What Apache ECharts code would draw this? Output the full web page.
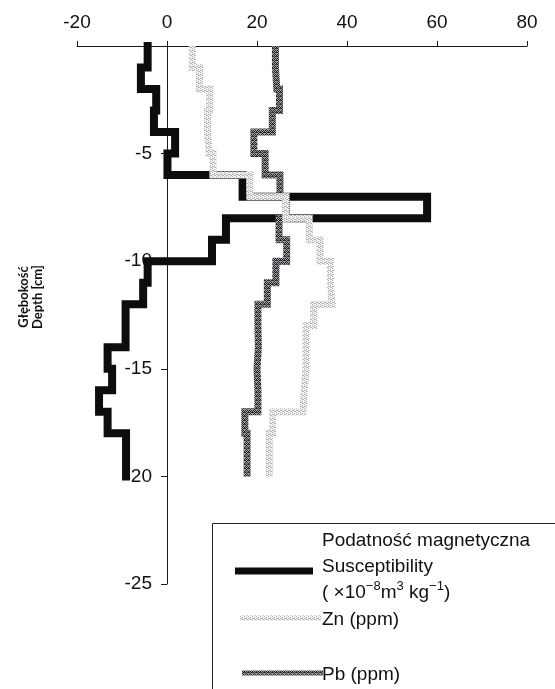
<!DOCTYPE html>
<html><head><meta charset="utf-8">
<script src="https://cdn.jsdelivr.net/npm/echarts@6/dist/echarts.min.js"></script>
<style>html,body{margin:0;padding:0;background:#fff}#c{width:555px;height:689px}</style>
</head><body><div id="c"></div>
<script>
// Depth intervals (cm, top and bottom of each 1 cm slice)
const depthTop    = [0,1,2,3,4,5,6,7,8,9,10,11,12,13,14,15,16,17,18,19];
const depthBottom = [1,2,3,4,5,6,7,8,9,10,11,12,13,14,15,16,17,18,19,20];
// Magnetic susceptibility (x10^-8 m3 kg-1)
const susceptibility = [-4.3,-5.8,-2.4,-2.9,1.8,0.1,16.8,57.8,13.1,10.0,-4.3,-5.3,-9.2,-9.2,-13.2,-12.2,-15.1,-13.2,-9.1,-9.1];
// Zn (ppm)
const zn = [5.6,7.2,9.5,9.0,9.4,10.2,18.4,26.4,31.6,34.0,36.3,36.7,32.6,30.9,30.9,30.5,30.2,23.5,22.7,22.7];
// Pb (ppm)
const pb = [24.1,24.4,25.0,23.4,19.3,21.8,25.1,26.5,24.9,26.6,24.2,22.3,20.2,20.3,20.0,20.2,20.2,17.3,17.8,17.8];
// Axis ticks
const xTicks = [-20,0,20,40,60,80];
const yTicks = [-25,-20,-15,-10,-5,0];

function stepPoints(vals){
  const pts=[];
  vals.forEach((v,i)=>{ pts.push([v,-depthTop[i]]); pts.push([v,-depthBottom[i]]); });
  return pts;
}
function makePattern(bg, fg, cells){
  const c=document.createElement('canvas'); c.width=4; c.height=4;
  const g=c.getContext('2d'); g.fillStyle=bg; g.fillRect(0,0,4,4);
  g.fillStyle=fg; cells.forEach(([x,y])=>g.fillRect(x,y,1,1));
  return {image:c, repeat:'repeat'};
}
const znPat = makePattern('#f4f4f4','#b0b0b0',[[0,0],[2,1],[1,2],[3,3],[2,3],[0,2]]);
const pbPat = makePattern('#9a9a9a','#262a2e',[[0,0],[1,0],[2,1],[3,2],[1,2],[0,3],[2,3],[3,0]]);

const chart = echarts.init(document.getElementById('c'), null, {renderer:'canvas'});
const axisCol = '#1a1a1a';
const legFont = 'Liberation Sans';
const gridLeft = 77;
chart.setOption({
  animation:false,
  backgroundColor:'#fff',
  grid:{left:gridLeft, right:28, top:46, bottom:105, outerBoundsMode:'none'},
  xAxis:{
    type:'value', position:'top', min:xTicks[0], max:xTicks[xTicks.length-1], interval:20,
    splitLine:{show:false},
    axisLine:{show:true, onZero:false, lineStyle:{color:axisCol, width:1}},
    axisTick:{show:true, length:5, lineStyle:{color:axisCol}},
    axisLabel:{margin:14, color:'#111', fontSize:19, fontFamily:'Liberation Sans'}
  },
  yAxis:{
    type:'value', min:yTicks[0], max:yTicks[yTicks.length-1], interval:5,
    splitLine:{show:false},
    axisLine:{show:true, onZero:true, lineStyle:{color:axisCol, width:1}},
    axisTick:{show:true, length:6, lineStyle:{color:axisCol}},
    axisLabel:{margin:-75, color:'#111', fontSize:19, fontFamily:'Liberation Sans', showMaxLabel:false, align:'right'}
  },
  series:[
    {name:'Susceptibility', type:'line', data:stepPoints(susceptibility), showSymbol:false, symbol:'none', z:2,
     lineStyle:{color:'#0d0d0d', width:8, cap:'square', join:'miter'}},
    {name:'Pb', type:'line', data:stepPoints(pb), showSymbol:false, symbol:'none', z:3,
     lineStyle:{color:pbPat, width:7, join:'miter'}},
    {name:'Zn', type:'line', data:stepPoints(zn), showSymbol:false, symbol:'none', z:4,
     lineStyle:{color:znPat, width:7, join:'miter'}}
  ],
  graphic:[
    {type:'text', x:31, y:297, rotation:Math.PI/2,
     style:{text:'Głębokość\nDepth [cm]', fontSize:13, fontWeight:'bold', fontFamily:'Lato', fill:'#111', textAlign:'center', textVerticalAlign:'middle', lineHeight:14}},
    {type:'rect', shape:{x:212.5, y:523.5, width:400, height:300}, style:{fill:'transparent', stroke:'#222', lineWidth:1}},
    {type:'line', shape:{x1:235, y1:571, x2:313, y2:571}, style:{stroke:'#0d0d0d', lineWidth:7}},
    {type:'text', x:322, y:528,
     style:{text:'Podatność magnetyczna\nSusceptibility\n( ×10{sup|−8}m{sup|3} kg{sup|−1})',
            fontSize:19, fontFamily:legFont, fill:'#111', lineHeight:26,
            rich:{sup:{fontSize:13, fontFamily:legFont, fill:'#111', verticalAlign:'top', lineHeight:26}}}},
    {type:'rect', shape:{x:240, y:615.5, width:81, height:5}, style:{fill:znPat}},
    {type:'text', x:322, y:620, style:{text:'Zn (ppm)', fontSize:19, fontFamily:legFont, fill:'#111', textVerticalAlign:'middle'}},
    {type:'rect', shape:{x:242, y:670.5, width:81, height:5}, style:{fill:pbPat}},
    {type:'text', x:322, y:675, style:{text:'Pb (ppm)', fontSize:19, fontFamily:legFont, fill:'#111', textVerticalAlign:'middle'}}
  ]
});
</script></body></html>
